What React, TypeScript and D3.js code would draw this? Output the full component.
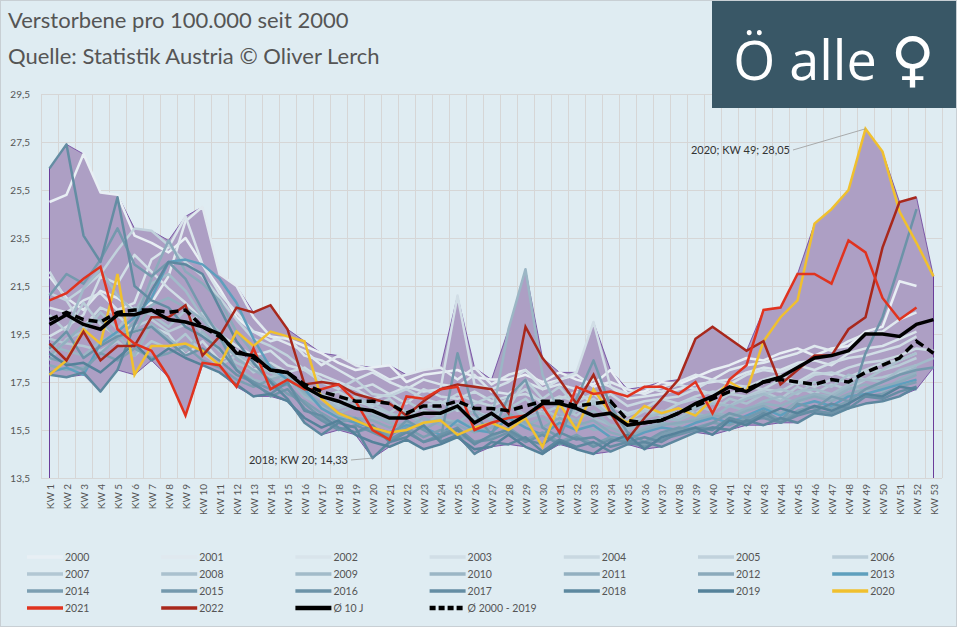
import React, { useRef, useEffect } from 'react';
import * as d3 from 'd3';

const weeks = d3.range(1, 54).map(w => `KW ${w}`);
const yTicks = [13.5, 15.5, 17.5, 19.5, 21.5, 23.5, 25.5, 27.5, 29.5];

const y2000 = [25.0,25.3,27.0,25.4,25.3,23.6,23.3,22.9,23.5,22.4,21.4,20.2,19.6,19.4,19.3,19.0,18.7,18.3,18.0,18.1,18.2,17.5,17.8,17.9,18.0,17.7,17.6,17.6,17.8,17.5,17.9,17.6,17.4,18.0,17.0,17.1,17.5,17.4,17.7,18.0,18.2,18.5,18.4,18.7,18.9,18.6,18.9,19.0,19.6,19.8,21.7,21.5];
const y2001 = [21.9,21.0,20.5,21.3,21.0,20.5,20.8,21.9,24.2,24.8,22.0,21.5,20.2,19.4,19.1,18.8,18.2,18.6,18.2,18.0,17.6,17.8,18.0,18.1,17.6,18.1,17.4,17.8,18.0,17.4,17.6,17.8,17.3,17.5,17.2,17.0,17.3,17.5,17.8,17.6,18.0,18.2,18.3,18.5,18.7,19.0,18.8,19.2,19.5,19.6,20.1,20.4];
const y2002 = [20.6,20.4,20.9,21.2,20.5,20.8,22.6,23.1,24.4,22.4,21.2,20.4,19.6,19.2,19.4,18.6,18.4,18.0,17.6,17.9,17.5,17.2,17.6,17.4,17.3,17.8,17.1,17.0,17.5,17.2,17.4,17.2,17.6,17.3,16.8,16.9,17.0,17.2,17.4,17.5,17.6,17.9,18.1,18.0,18.3,18.4,18.2,18.7,18.9,19.0,19.3,19.6];
const y2003 = [19.4,19.8,20.3,21.9,21.6,22.8,22.1,21.4,20.8,20.1,19.5,19.0,18.6,18.8,18.2,18.0,17.8,17.5,17.2,17.4,17.0,17.3,17.1,17.2,21.1,17.4,17.2,17.5,18.0,17.2,17.6,17.9,20.0,17.3,17.0,17.3,17.1,17.4,17.2,17.6,17.4,17.8,18.0,17.9,18.2,18.0,18.3,18.5,18.6,18.8,19.0,19.4];
const y2004 = [22.1,20.9,19.8,20.6,20.3,19.6,19.8,19.5,18.6,19.2,18.4,18.8,18.0,18.3,17.9,18.1,17.6,17.4,17.2,16.8,17.0,16.6,17.2,16.9,16.8,17.1,16.7,16.9,17.0,16.7,16.8,17.1,16.6,17.0,16.5,16.7,16.8,16.9,17.2,17.0,17.4,17.3,17.6,17.8,17.5,17.9,17.8,18.1,18.3,18.4,18.6,18.9,18.8];
const y2005 = [21.2,20.9,21.4,22.0,23.0,23.9,23.8,23.2,22.5,21.9,21.0,20.1,19.3,19.0,18.6,18.0,17.5,17.2,17.6,17.0,16.9,17.2,16.8,16.6,17.0,16.7,16.5,16.8,17.2,16.6,16.9,16.7,17.0,16.5,16.2,16.4,16.8,16.6,16.9,17.1,17.0,17.3,17.2,17.6,17.4,17.8,17.9,17.7,18.0,18.3,18.4,18.7];
const y2006 = [20.3,19.6,20.8,19.9,19.4,19.8,20.1,19.6,19.9,20.4,19.5,18.6,18.3,18.0,17.5,17.2,16.9,17.1,16.7,16.5,16.8,16.2,16.5,16.7,16.3,16.6,16.9,16.4,17.6,16.8,17.3,16.5,16.8,16.2,16.1,16.4,16.2,16.6,16.8,16.6,17.0,16.9,17.2,17.1,17.5,17.3,17.6,17.5,17.9,18.0,18.2,18.5];
const y2007 = [19.3,19.1,19.0,18.8,19.2,18.6,19.2,18.9,19.5,18.7,18.2,18.6,17.9,18.1,17.6,17.4,16.9,16.6,16.9,16.4,16.2,16.7,16.3,16.1,16.6,16.3,16.0,16.4,16.8,16.2,16.5,16.1,16.7,16.0,15.9,16.3,16.1,16.4,16.2,16.7,16.5,16.9,17.1,16.8,17.3,17.0,17.4,17.2,17.6,17.7,17.9,18.2];
const y2008 = [18.4,19.3,19.6,20.4,19.7,20.6,20.3,19.8,20.5,19.5,18.8,18.3,18.0,17.7,17.9,17.2,17.0,16.5,16.8,16.6,16.2,16.0,16.5,16.3,16.4,16.0,16.2,16.6,16.1,16.4,16.0,16.3,16.6,16.1,15.9,16.0,16.3,16.2,16.5,16.3,16.8,16.6,17.0,17.2,17.0,17.5,17.3,17.8,17.6,18.0,18.4,18.7];
const y2009 = [18.8,19.6,21.4,22.2,21.1,20.4,21.6,22.0,21.3,20.2,19.6,18.7,18.2,17.9,17.6,17.3,16.8,16.4,16.6,16.2,16.0,16.3,15.8,16.1,16.4,15.9,16.1,16.6,16.0,16.2,15.8,16.4,16.0,15.7,15.6,16.0,16.2,16.0,16.4,16.6,16.5,16.8,17.0,16.7,17.1,17.2,17.0,17.4,17.6,17.5,18.0,18.2,18.5];
const y2010 = [19.0,18.8,18.6,19.2,19.5,18.6,19.9,19.3,18.8,19.6,18.9,18.1,17.6,17.4,17.7,16.9,16.5,16.2,16.5,16.0,15.9,16.2,15.7,16.0,15.8,16.3,15.9,19.7,22.2,17.8,16.2,15.9,16.3,15.7,15.5,15.8,16.0,15.9,16.2,16.0,16.5,16.3,16.7,16.9,16.6,17.0,16.9,17.3,17.1,17.5,17.8,18.1];
const y2011 = [18.6,19.2,19.9,20.1,19.3,19.6,20.7,21.0,20.6,20.1,19.3,18.5,18.0,17.6,17.8,17.0,16.6,16.1,15.9,16.1,15.8,15.6,16.0,15.7,15.9,15.6,15.8,16.1,15.7,16.0,15.6,15.9,15.5,15.6,15.3,15.6,15.8,15.7,16.0,16.2,16.1,16.4,16.6,16.5,16.8,17.0,16.8,17.2,17.4,17.1,17.6,17.9];
const y2012 = [18.2,18.0,18.1,18.7,19.3,20.0,21.8,23.4,22.1,21.6,20.9,19.6,18.7,18.2,17.6,17.1,16.6,16.2,16.0,15.9,15.6,15.8,15.5,15.9,15.7,15.4,15.6,16.2,15.8,15.6,16.0,15.7,15.9,15.4,15.2,15.5,15.7,15.8,15.9,16.1,16.0,16.3,16.5,16.2,16.7,16.9,16.7,17.0,17.2,17.3,17.5,17.8];
const y2013 = [17.9,18.1,17.8,19.1,19.6,20.2,21.0,22.5,22.6,22.4,21.8,20.8,19.3,18.1,17.6,17.2,16.4,16.0,15.8,15.6,15.4,15.7,15.6,15.3,15.9,15.5,15.4,16.0,15.6,15.3,15.8,15.5,15.7,15.2,15.1,15.4,15.6,15.5,15.8,16.0,15.8,16.1,16.4,16.1,16.5,16.7,16.5,16.9,17.0,17.2,17.4,17.6];
const y2014 = [18.5,18.3,18.0,18.7,18.4,18.9,18.5,18.7,19.0,18.4,18.1,17.6,17.3,17.6,17.0,16.7,16.2,15.8,16.0,15.5,15.3,15.6,15.2,15.5,15.3,15.0,15.2,15.6,15.1,15.4,15.0,15.3,14.9,15.2,15.0,14.9,15.3,15.5,15.6,15.8,15.7,16.0,16.1,15.9,16.3,16.5,16.4,16.7,16.9,17.0,17.3,17.5];
const y2015 = [21.1,22.0,21.6,22.6,23.9,22.4,21.9,22.5,21.8,20.5,19.4,18.0,17.5,17.2,17.4,16.6,16.0,15.6,15.4,15.6,15.2,15.9,15.5,15.1,18.7,16.2,15.3,16.9,17.6,15.6,15.2,16.8,18.4,16.5,15.4,15.0,15.4,15.6,15.5,15.8,16.2,16.0,16.3,15.9,16.6,16.4,16.9,16.7,17.2,17.5,17.8,18.0,18.1];
const y2016 = [18.9,19.6,18.5,19.0,19.4,19.6,19.8,19.2,18.6,18.9,18.4,17.8,17.5,16.9,17.2,16.4,15.9,15.5,15.7,15.4,15.1,15.5,15.0,15.3,15.6,15.0,15.1,15.4,15.0,15.3,14.9,15.2,14.8,15.1,15.0,14.8,15.1,15.3,15.5,15.6,15.5,15.9,16.0,15.8,16.2,16.3,16.2,16.5,18.7,20.2,22.4,24.7];
const y2017 = [26.4,27.4,23.6,22.5,25.2,21.5,20.9,20.6,19.8,19.4,18.9,18.0,17.4,17.0,17.5,16.3,16.1,15.6,15.4,15.7,15.0,15.4,15.0,15.2,15.5,14.9,15.3,15.5,15.1,14.9,15.4,15.1,15.2,14.8,15.0,15.2,15.0,15.4,15.6,15.5,16.0,15.8,16.2,15.8,16.1,16.3,16.6,16.4,16.9,16.8,17.1,17.3];
const y2018 = [17.8,17.7,17.9,17.1,18.0,19.9,21.3,22.5,22.4,22.0,20.6,19.2,18.3,17.5,16.8,15.8,15.3,15.8,15.6,14.33,15.0,15.2,15.7,15.0,15.3,14.5,15.0,14.9,15.2,14.6,15.1,14.8,15.0,14.6,14.9,15.0,14.8,15.1,15.4,15.6,15.5,15.9,15.7,16.0,15.8,16.2,16.1,16.4,16.6,16.7,16.9,17.3];
const y2019 = [18.7,18.2,18.3,17.9,18.5,19.1,18.4,18.9,18.5,18.2,17.9,17.4,16.9,17.0,16.7,16.0,15.6,15.9,15.3,15.0,14.8,15.1,14.7,14.9,15.2,14.7,14.8,15.3,14.8,14.5,15.0,14.7,14.5,15.0,15.3,14.7,15.2,15.4,15.6,15.3,15.9,15.7,16.1,16.4,16.2,16.5,16.3,16.6,17.0,16.9,17.3,17.2];
const y2020 = [17.8,18.4,19.7,19.1,22.0,17.8,19.0,19.0,19.1,18.8,18.2,19.6,19.0,19.6,19.4,19.2,16.8,16.2,15.9,15.6,15.4,15.5,15.8,15.9,15.3,15.6,15.8,15.5,16.0,14.8,16.6,15.5,17.2,16.2,15.8,16.5,16.2,16.4,16.1,16.8,17.5,17.1,19.2,20.2,20.9,24.1,24.7,25.5,28.05,27.1,24.6,23.3,21.9];
const y2021 = [20.9,21.2,21.8,22.3,19.7,19.1,18.8,17.7,16.1,18.3,18.2,17.3,18.9,17.2,17.6,17.2,17.2,17.4,16.7,15.5,15.1,16.9,16.8,17.2,17.3,15.5,15.8,16.0,16.1,16.5,15.4,17.3,17.0,17.1,16.9,17.3,17.3,17.0,17.5,16.2,17.6,18.2,20.5,20.6,22.0,22.0,21.6,23.4,22.9,21.0,20.1,20.6];
const y2022 = [19.1,18.4,19.6,18.4,19.0,19.0,20.2,20.2,20.7,18.6,19.4,20.6,20.4,20.7,19.7,17.4,17.5,17.4,17.0,16.8,16.6,16.1,16.7,17.2,17.4,17.3,17.2,16.2,19.8,18.5,17.6,16.6,17.8,16.2,15.1,16.0,16.8,17.6,19.3,19.8,19.3,18.8,19.2,17.4,18.0,18.6,18.6,19.7,20.2,23.1,25.0,25.2];
const avg10 = [19.9,20.3,19.9,19.7,20.3,20.3,20.5,20.1,20.0,19.8,19.5,18.7,18.6,18.0,17.9,17.3,16.9,16.7,16.4,16.3,16.0,16.0,16.2,16.2,16.5,15.8,16.2,15.7,16.1,16.6,16.6,16.4,16.1,16.2,15.7,15.8,15.9,16.2,16.6,16.9,17.3,17.1,17.5,17.7,18.1,18.5,18.6,18.8,19.5,19.5,19.4,19.9,20.1];
const avgAll = [20.1,20.4,20.1,20.0,20.4,20.5,20.5,20.4,20.5,19.8,19.4,18.8,18.5,18.0,17.9,17.4,17.1,16.9,16.7,16.7,16.6,16.2,16.5,16.5,16.7,16.4,16.4,16.3,16.5,16.7,16.7,16.5,16.6,16.7,15.9,15.8,15.9,16.2,16.5,16.8,17.1,17.2,17.5,17.6,17.5,17.4,17.6,17.5,17.9,18.2,18.5,19.2,18.7];

const pastYears = [y2000, y2001, y2002, y2003, y2004, y2005, y2006, y2007, y2008, y2009,
  y2010, y2011, y2012, y2013, y2014, y2015, y2016, y2017, y2018, y2019];
const pastLabels = d3.range(2000, 2020).map(String);

const W = 957, H = 627;

const App: React.FC = () => {
  const svgRef = useRef<SVGSVGElement | null>(null);

  useEffect(() => {
    const svg = d3.select(svgRef.current);
    svg.selectAll('*').remove();

    const x = d3.scaleBand<string>().domain(weeks).range([41, 942]);
    const y = d3.scaleLinear().domain([13.5, 29.5]).range([478, 94]);
    const cx = (i: number) => (x(weeks[i]) as number) + x.bandwidth() / 2;

    const pastColor = (i: number) => i === 13 ? '#5e9fbd' : d3.interpolateRgb('#e8eff4', '#55829a')(i / 19);

    svg.append('rect').attr('x', 0.5).attr('y', 0.5).attr('width', W - 1).attr('height', H - 1)
      .attr('fill', '#dfecf2').attr('stroke', '#c8cfd4');

    // grid
    const grid = svg.append('g').attr('stroke', '#d6d6d6').attr('stroke-width', 1);
    weeks.forEach(w => {
      const gx = Math.round(x(w) as number) + 0.5;
      grid.append('line').attr('x1', gx).attr('x2', gx).attr('y1', 94).attr('y2', 478);
    });
    grid.append('line').attr('x1', 942.5).attr('x2', 942.5).attr('y1', 94).attr('y2', 478);
    yTicks.forEach(t => {
      grid.append('line').attr('x1', 41).attr('x2', 942).attr('y1', Math.round(y(t)) + 0.5).attr('y2', Math.round(y(t)) + 0.5);
    });

    // envelope band (min/max across all years)
    const all = [...pastYears, y2020, y2021, y2022];
    const band = weeks.map((_, i) => {
      const vals = all.map(s => s[i]).filter(v => v !== undefined) as number[];
      return { i, lo: d3.min(vals) as number, hi: d3.max(vals) as number };
    });
    svg.append('path').datum(band)
      .attr('d', d3.area<{ i: number; lo: number; hi: number }>().x(d => cx(d.i)).y0(d => y(d.lo)).y1(d => y(d.hi)))
      .attr('fill', '#ad9fc4').attr('stroke', '#6a3d9a').attr('stroke-width', 0.8);
    svg.append('line').attr('x1', cx(0)).attr('x2', cx(0)).attr('y1', y(band[0].hi)).attr('y2', 478).attr('stroke', '#6a3d9a');
    svg.append('line').attr('x1', cx(52)).attr('x2', cx(52)).attr('y1', y(band[52].hi)).attr('y2', 478).attr('stroke', '#6a3d9a');

    const line = d3.line<number>().x((_, i) => cx(i)).y(d => y(d));
    pastYears.forEach((s, i) => {
      svg.append('path').datum(s).attr('d', line).attr('fill', 'none')
        .attr('stroke', pastColor(i)).attr('stroke-width', 2.5).attr('stroke-linejoin', 'round');
    });
    svg.append('path').datum(y2020).attr('d', line).attr('fill', 'none').attr('stroke', '#f0c02e').attr('stroke-width', 2.5);
    svg.append('path').datum(y2022).attr('d', line).attr('fill', 'none').attr('stroke', '#a8281c').attr('stroke-width', 2.5);
    svg.append('path').datum(y2021).attr('d', line).attr('fill', 'none').attr('stroke', '#e0331f').attr('stroke-width', 2.5);
    svg.append('path').datum(avgAll).attr('d', line).attr('fill', 'none').attr('stroke', '#000')
      .attr('stroke-width', 3.5).attr('stroke-dasharray', '9,5');
    svg.append('path').datum(avg10).attr('d', line).attr('fill', 'none').attr('stroke', '#000').attr('stroke-width', 3.5);

    // axes labels
    const font = 'Lato, "DejaVu Sans", sans-serif';
    yTicks.forEach(t => {
      svg.append('text').attr('x', 30).attr('y', y(t) + 4).attr('text-anchor', 'end')
        .attr('font-family', font).attr('font-size', 10).attr('fill', '#555').text(String(t).replace('.', ','));
    });
    weeks.forEach((w, i) => {
      svg.append('text').attr('transform', `translate(${cx(i) + 4},484) rotate(-90)`).attr('text-anchor', 'end')
        .attr('font-family', font).attr('font-size', 10).attr('fill', '#555').text(w);
    });

    // annotations
    const pk = y2020.indexOf(d3.max(y2020) as number);
    svg.append('line').attr('x1', 793).attr('y1', 150).attr('x2', cx(pk)).attr('y2', y(y2020[pk])).attr('stroke', '#999').attr('stroke-width', 0.8);
    svg.append('text').attr('x', 790).attr('y', 154).attr('text-anchor', 'end').attr('font-family', font)
      .attr('font-size', 11).attr('fill', '#333').text('2020; KW 49; 28,05');
    const mn = y2018.indexOf(d3.min(y2018) as number);
    svg.append('line').attr('x1', 351).attr('y1', 460).attr('x2', cx(mn)).attr('y2', y(y2018[mn])).attr('stroke', '#999').attr('stroke-width', 0.8);
    svg.append('text').attr('x', 348).attr('y', 464).attr('text-anchor', 'end').attr('font-family', font)
      .attr('font-size', 11).attr('fill', '#333').text('2018; KW 20; 14,33');

    // legend
    const items = [
      ...pastLabels.map((l, i) => ({ label: l, color: pastColor(i), w: 3.5, dash: '' })),
      { label: '2020', color: '#f0c02e', w: 3.5, dash: '' },
      { label: '2021', color: '#e0331f', w: 3.5, dash: '' },
      { label: '2022', color: '#a8281c', w: 3.5, dash: '' },
      { label: 'Ø 10 J', color: '#000', w: 4.5, dash: '' },
      { label: 'Ø 2000 - 2019', color: '#000', w: 4.5, dash: '6,3' },
    ];
    items.forEach((it, k) => {
      const lx = 27 + (k % 7) * 134.2, ly = 557 + Math.floor(k / 7) * 17;
      svg.append('line').attr('x1', lx).attr('x2', lx + 36).attr('y1', ly).attr('y2', ly)
        .attr('stroke', it.color).attr('stroke-width', it.w).attr('stroke-dasharray', it.dash || null);
      svg.append('text').attr('x', lx + 38).attr('y', ly + 4).attr('font-family', font)
        .attr('font-size', 10.5).attr('fill', '#555').text(it.label);
    });

    // titles
    svg.append('text').attr('x', 8).attr('y', 28).attr('font-family', font).attr('font-size', 22)
      .attr('fill', '#555').text('Verstorbene pro 100.000 seit 2000');
    svg.append('text').attr('x', 8).attr('y', 64).attr('font-family', font).attr('font-size', 22)
      .attr('fill', '#555').text('Quelle: Statistik Austria © Oliver Lerch');

    svg.append('rect').attr('x', 712).attr('y', 1).attr('width', 244).attr('height', 107).attr('fill', '#395766');
    const badge = svg.append('text').attr('x', 834).attr('y', 80).attr('text-anchor', 'middle')
      .attr('font-family', '"Open Sans", sans-serif').attr('font-size', 54).attr('fill', '#fff');
    badge.append('tspan').text('Ö alle ');
    badge.append('tspan').attr('font-family', '"DejaVu Sans", sans-serif').attr('font-size', 60).text('♀');
  }, []);

  return <svg ref={svgRef} width={W} height={H} style={{ position: 'absolute', left: 0, top: 0 }} />;
};

export default App;
